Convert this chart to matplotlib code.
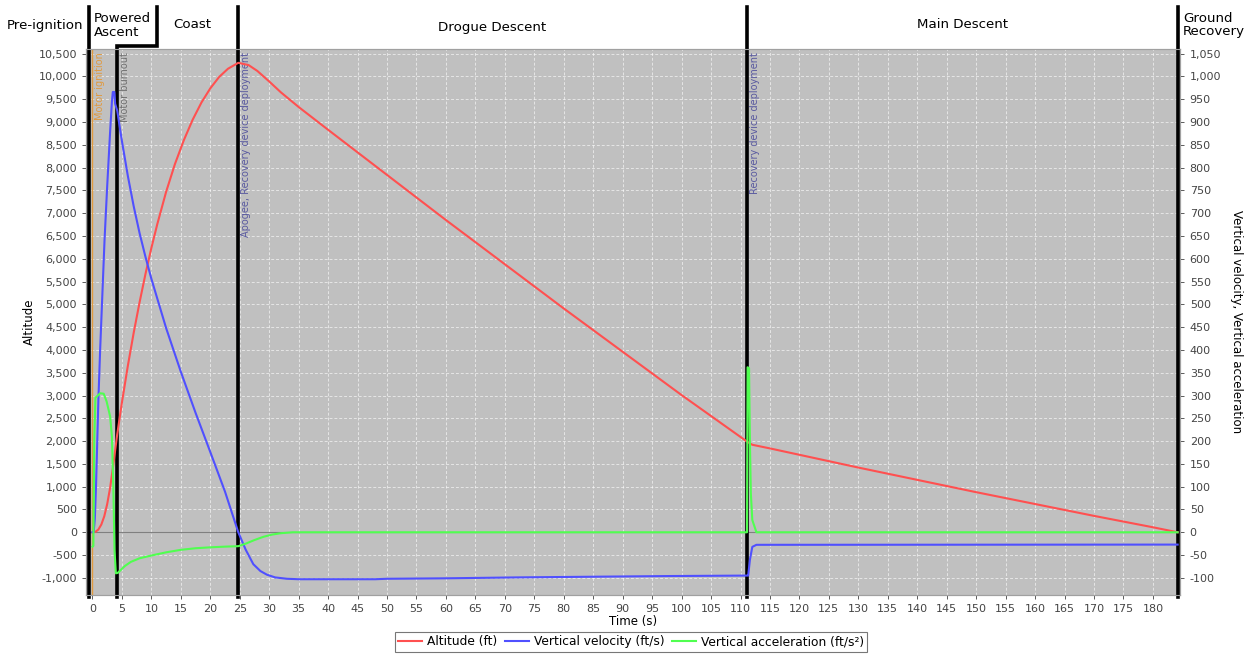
import matplotlib
matplotlib.use("Agg")
import matplotlib.pyplot as plt
from matplotlib.ticker import FuncFormatter, MultipleLocator
from matplotlib.transforms import blended_transform_factory

# ---------------- data ----------------
alt_t = [0, 0.5, 1.0, 1.5, 2.0, 2.5, 3.0, 3.5, 4.2, 5, 6, 7, 8, 9, 10, 11, 12.5, 14, 15.5, 17,
         18.5, 20, 21.5, 23, 24.75, 26.5, 28, 30, 32, 35, 40, 50, 60, 70, 80, 90, 100, 111.1,
         112, 115, 120, 130, 140, 150, 160, 170, 180, 184.2]
alt_ft = [0, 10, 60, 170, 350, 620, 980, 1450, 2150, 2850, 3650, 4380, 5050, 5670, 6240, 6760,
          7470, 8080, 8600, 9050, 9430, 9740, 9990, 10170, 10300, 10250, 10120, 9890, 9650, 9330,
          8830, 7840, 6850, 5880, 4910, 3960, 3010, 1990, 1920, 1840, 1700, 1420, 1150, 880, 620,
          360, 110, 0]

vel_t = [0, 0.2, 0.4, 0.6, 1.0, 1.3, 2.05, 2.5, 3.0, 3.3, 3.45, 3.7, 3.85, 4.2, 5, 6, 7, 8, 9,
         10, 12.5, 15, 17.5, 20, 22.5, 24.75, 26, 27.3, 28.5, 29.6, 31, 33, 35, 48, 50, 60, 72,
         85, 98, 111.1, 111.3, 111.6, 112, 112.7, 184.2]
vel_fts = [0, 0, 30, 100, 290, 400, 642, 760, 880, 945, 966, 966, 940, 925, 858, 782, 715, 656,
           604, 556, 448, 352, 262, 176, 89, 0, -38, -70, -85, -93, -99, -102, -103, -103, -102,
           -101, -99, -97.5, -96, -95, -95, -60, -32, -27.5, -27]

acc_t = [0, 0.15, 0.3, 0.5, 1.3, 1.9, 2.4, 3.0, 3.3, 3.55, 3.74, 3.97, 4.3, 4.7, 5.5, 6.5, 8, 10,
         12.5, 15, 17.5, 20, 22.5, 24.75, 26, 27.5, 29, 30.5, 32, 34, 111.1, 111.2, 111.45, 111.6,
         111.75, 112.0, 112.7, 184.2]
acc_fts2 = [-31.6, -30, 200, 295, 305, 304, 287, 254, 210, 93, -39, -90, -89, -84, -74, -65,
            -57, -51, -44, -38.5, -35, -33, -31.5, -30.5, -25, -17, -10, -5, -2, 0, 0, 362, 360,
            196, 86, 27, 0, 0]

phase_names = ["Pre-ignition", "Powered\nAscent", "Coast", "Drogue Descent", "Main Descent",
               "Ground\nRecovery"]
phase_bounds = [-0.55, 4.2, 24.75, 111.1, 184.2]

event_t = [0.0, 4.2, 24.75, 111.1]
event_labels = ["Motor ignition", "Motor burnout", "Apogee, Recovery device deployment",
                "Recovery device deployment"]
event_colors = ["#e09a40", "#707070", "#5a5aa0", "#5a5aa0"]

# ---------------- figure ----------------
W, H = 1256, 654
fig = plt.figure(figsize=(W / 100, H / 100), dpi=100)
ax = fig.add_axes([86 / W, 1 - 595 / H, (1180 - 86) / W, (595 - 49) / H])
ax.set_facecolor("#c0c0c0")

ax.set_xlim(-1.1, 184.6)
ax.set_ylim(-1376, 10603)

ax.xaxis.set_major_locator(MultipleLocator(5))
ax.yaxis.set_major_locator(MultipleLocator(500))
ax.yaxis.set_major_formatter(FuncFormatter(lambda v, p: f"{v:,.0f}"))
ax.grid(True, color="white", linestyle=(0, (3, 2)), linewidth=0.7, alpha=0.6)
ax.axhline(0, color="#808080", linewidth=0.8, zorder=1.6)

for sp in ax.spines.values():
    sp.set_color("#a0a0a0")
ax.tick_params(axis="both", labelsize=8, colors="#404040", length=3, width=0.6,
               labelcolor="#444444")

ax.set_ylabel("Altitude", fontsize=8.5, labelpad=2)
ax.set_xlabel("Time (s)", fontsize=8.5, labelpad=1)

ax2 = ax.twinx()
ax2.set_ylim(-137.6, 1060.3)
ax2.yaxis.set_major_locator(MultipleLocator(50))
ax2.yaxis.set_major_formatter(FuncFormatter(lambda v, p: f"{v:,.0f}"))
ax2.tick_params(axis="y", labelsize=8, length=3, width=0.6, labelcolor="#444444",
                colors="#404040", pad=4)
for sp in ax2.spines.values():
    sp.set_color("#a0a0a0")
ax2.set_ylabel("Vertical velocity, Vertical acceleration", fontsize=8.5, rotation=270,
               labelpad=16)

# event thin lines + labels
for t, lab, c in zip(event_t, event_labels, event_colors):
    ax.axvline(t, color=c, linewidth=1.0, zorder=2)
    ax.text(t + 0.5, 0.995, lab, transform=blended_transform_factory(ax.transData, ax.transAxes),
            rotation=90, ha="left", va="top", fontsize=7, color=c,
            family=["Liberation Sans Narrow", "DejaVu Sans"], zorder=3)

l1, = ax2.plot(alt_t, [a / 10 for a in alt_ft], color="#ff5050", linewidth=1.5, zorder=4,
               label="Altitude (ft)")
l2, = ax2.plot(vel_t, vel_fts, color="#5050ff", linewidth=1.5, zorder=4,
               label="Vertical velocity (ft/s)")
l3, = ax2.plot(acc_t, acc_fts2, color="#50ff50", linewidth=1.5, zorder=4,
               label="Vertical acceleration (ft/s²)")
ax2.set_xlim(-1.1, 184.6)

# black phase separators
bt = blended_transform_factory(ax.transData, fig.transFigure)
y_top = 1 - 7 / H
y_bot = 1 - 597 / H
y_step = 1 - 46 / H
lw = 2.6
for i, b in enumerate(phase_bounds):
    if i == 1:
        ax.plot([b, b, 11.0, 11.0], [y_bot, y_step, y_step, y_top], color="black", linewidth=lw,
                transform=bt, clip_on=False, zorder=10, solid_joinstyle="miter")
    else:
        ax.plot([b, b], [y_bot, y_top], color="black", linewidth=lw, transform=bt,
                clip_on=False, zorder=10)

# phase titles
fs = 9.6
fig.text(45 / W, 1 - 26 / H, phase_names[0], ha="center", va="center", fontsize=fs)
fig.text(94 / W, 1 - 25 / H, phase_names[1], ha="left", va="center", fontsize=fs,
         linespacing=1.1)
fig.text(192 / W, 1 - 25 / H, phase_names[2], ha="center", va="center", fontsize=fs)
fig.text(492 / W, 1 - 27 / H, phase_names[3], ha="center", va="center", fontsize=fs)
fig.text(963 / W, 1 - 25 / H, phase_names[4], ha="center", va="center", fontsize=fs)
fig.text(1183 / W, 1 - 25 / H, phase_names[5], ha="left", va="center", fontsize=fs,
         linespacing=1.1)

leg = fig.legend(handles=[l1, l2, l3], loc="center", bbox_to_anchor=(631 / W, 1 - 642 / H),
                 ncol=3, fontsize=8.8, frameon=True, fancybox=False, handlelength=2.0,
                 handletextpad=0.4, columnspacing=0.6, borderpad=0.25, edgecolor="#555555")
leg.get_frame().set_linewidth(0.8)

fig.savefig("out.png", dpi=100)
